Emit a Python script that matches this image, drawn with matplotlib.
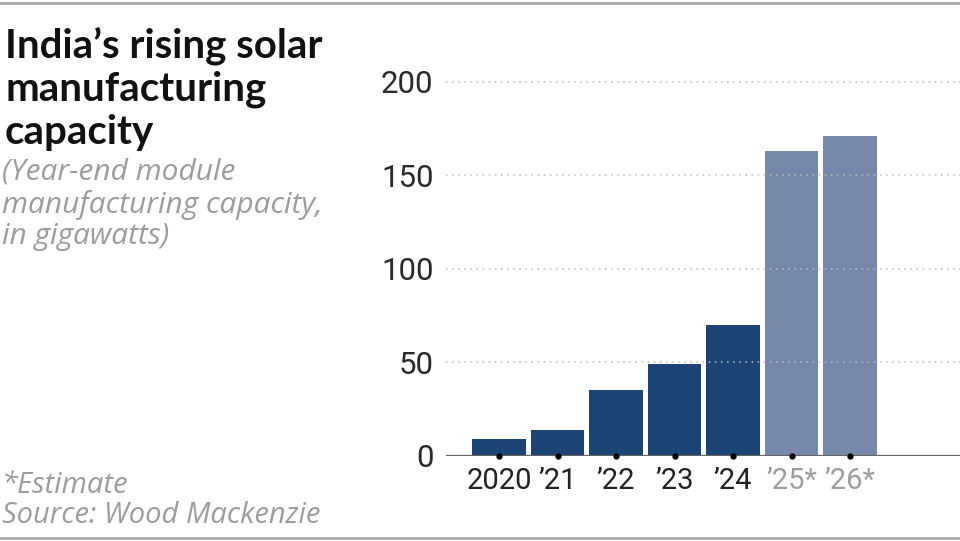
"""Bar chart of India's solar module manufacturing capacity."""

import matplotlib.pyplot as plt
from matplotlib.lines import Line2D

years = ["2020", "\u201921", "\u201922", "\u201923", "\u201924", "\u201925*", "\u201926*"]
capacity_gw = [9, 14, 35, 49, 70, 163, 171]
is_estimate = [False, False, False, False, False, True, True]
y_ticks = [0, 50, 100, 150, 200]

DARK = "#1b4373"
LIGHT = "#7789ab"
GRAY_TEXT = "#9d9d9d"

fig = plt.figure(figsize=(9.6, 5.41), dpi=100)
ax = fig.add_axes([446 / 960, 1 - 455.7 / 541, 514 / 960, 392.7 / 541])

# bars
positions = list(range(len(years)))
colors = [LIGHT if est else DARK for est in is_estimate]
ax.bar(positions, capacity_gw, width=0.92, color=colors, zorder=2)

ax.set_xlim(-0.906, 7.88)
ax.set_ylim(0, 210)

# dotted grid
for val in y_ticks[1:]:
    ax.axhline(val, color="#bdbdbd", lw=1.1, ls=(0, (1, 3)), zorder=3)
ax.axhline(0, color="#666666", lw=1.6, zorder=4)

# little dots under each bar
ax.plot(positions, [0] * len(positions), "o", color="black", ms=3.5,
        zorder=5, clip_on=False)

for side in ["top", "right", "left", "bottom"]:
    ax.spines[side].set_visible(False)
ax.tick_params(length=0)

num_font = ["Roboto", "DejaVu Sans"]
ax.set_yticks(y_ticks)
ax.set_yticklabels([str(t) for t in y_ticks], fontsize=22.5, color="#2a2a2a",
                   family=num_font)
ax.tick_params(axis="y", pad=9)
ax.set_xticks(positions)
ax.set_xticklabels(years, fontsize=21, family=num_font)
ax.tick_params(axis="x", pad=8)
for lbl, est in zip(ax.get_xticklabels(), is_estimate):
    lbl.set_color(GRAY_TEXT if est else "#222222")

# title block
fig.text(5 / 960, 1 - 26 / 541, "India\u2019s rising solar\nmanufacturing\ncapacity",
         fontsize=29, fontweight="bold", family=["Lato", "DejaVu Sans"],
         color="#111111", va="top", ha="left", linespacing=1.2)
side_font = ["Open Sans", "DejaVu Sans"]
fig.text(2 / 960, 1 - 158 / 541,
         "(Year-end module\nmanufacturing capacity,\nin gigawatts)",
         fontsize=21.5, fontstyle="italic", family=side_font,
         color=GRAY_TEXT, va="top", ha="left", linespacing=1.12)
fig.text(2 / 960, 1 - 471 / 541, "*Estimate\nSource: Wood Mackenzie",
         fontsize=21, fontstyle="italic", family=side_font,
         color=GRAY_TEXT, va="top", ha="left", linespacing=1.05)

# rules at top and bottom
fig.add_artist(Line2D([0, 1], [1 - 2.5 / 541] * 2, color="#aaaaaa", lw=2,
                      transform=fig.transFigure))
fig.add_artist(Line2D([0, 1], [1 - 538 / 541] * 2, color="#aaaaaa", lw=2,
                      transform=fig.transFigure))

fig.savefig("out.png", dpi=100)
